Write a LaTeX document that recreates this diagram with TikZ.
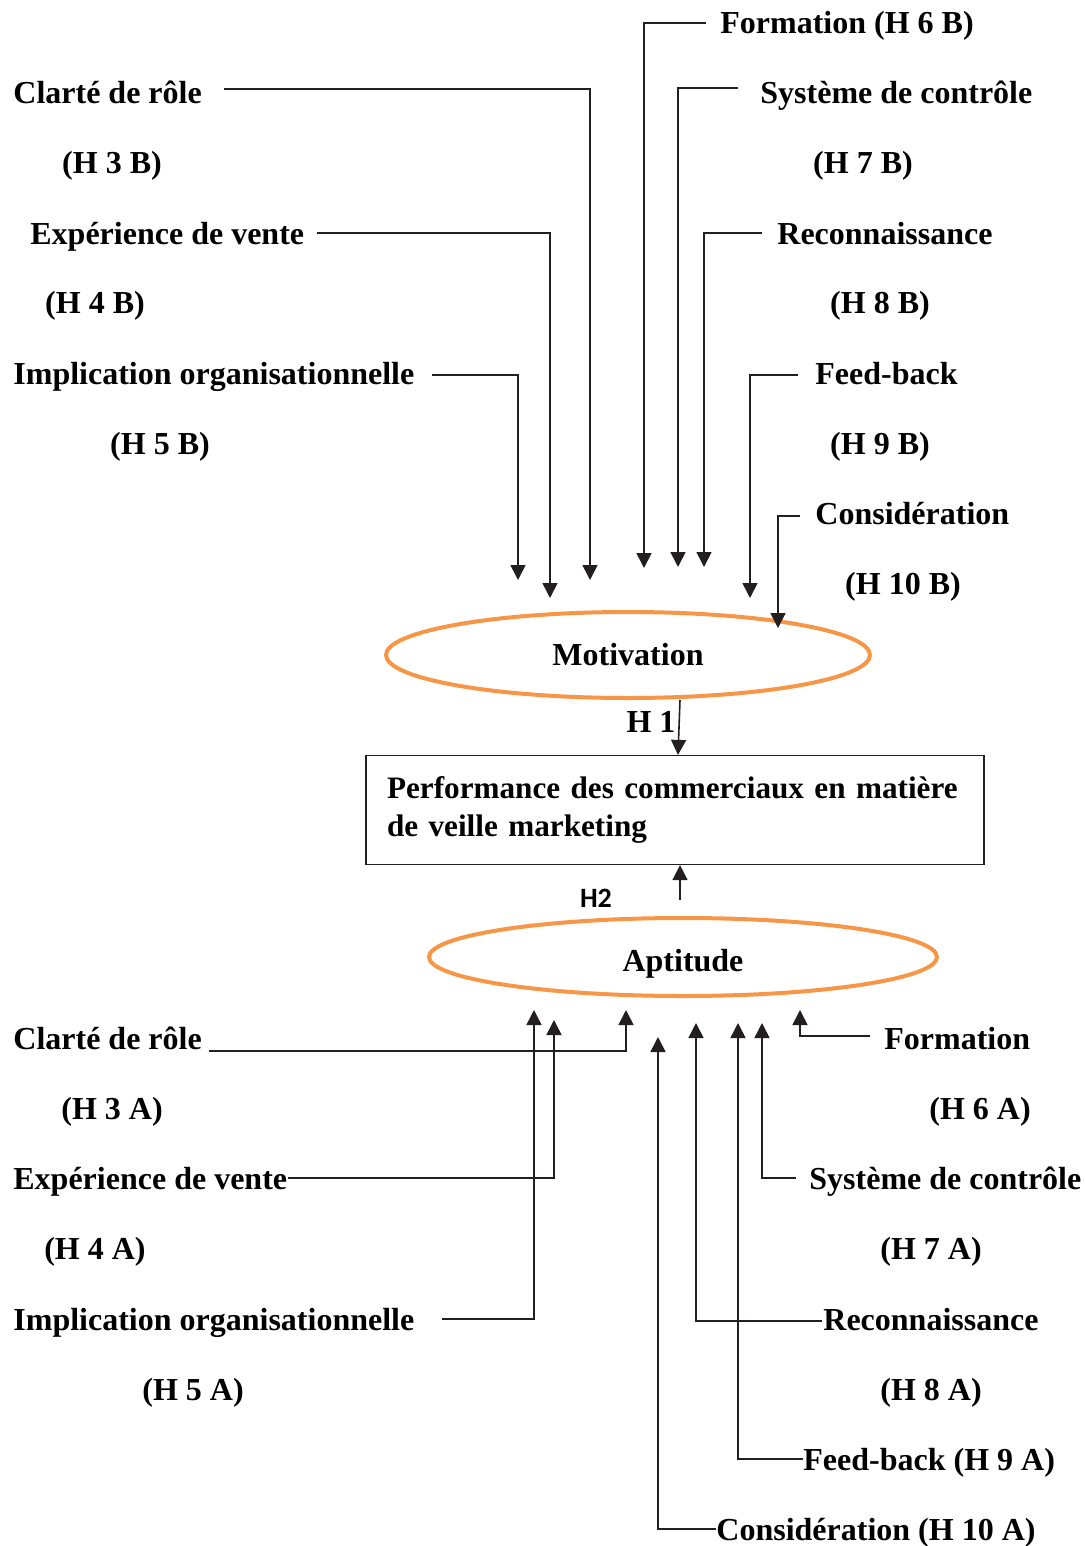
\documentclass[tikz,border=0pt]{standalone}
\usepackage{fontspec}
\setmainfont{Liberation Serif}
\newfontfamily\hfont{Carlito}
\usetikzlibrary{arrows.meta,positioning,calc,shapes.geometric}
\definecolor{ovalorange}{HTML}{F79646}
\definecolor{inkline}{HTML}{231F20}

\begin{document}
\begin{tikzpicture}[
    x=0.5pt, y=-0.5pt,
    lbl/.style={inner sep=0pt, anchor=west, text height=14pt, text depth=3pt, font=\fontsize{16}{19}\selectfont\bfseries},
    hyp/.style={inner sep=0pt, text height=14pt, text depth=3pt, font=\fontsize{16}{19}\selectfont\bfseries},
    oval/.style={ellipse, draw=ovalorange, line width=2pt, font=\fontsize{16}{19}\selectfont\bfseries},
    wire/.style={thick, inkline, -{Triangle[length=7.5pt,width=7.5pt]}}
  ]
  \useasboundingbox (0,0) rectangle (1084,1546);

  % central part
  \node[oval, minimum width=242pt, minimum height=43pt] (mot) at (628,655) {Motivation};
  \node[draw=inkline, line width=0.6pt, minimum width=309pt, minimum height=54.5pt,
        text width=288pt, inner xsep=10.5pt, align=left,
        font=\fontsize{15.6}{19}\selectfont\bfseries] (perf) at (675,810)
        {\mbox{Performance des commerciaux en matière}\\de veille marketing};
  \node[oval, minimum width=254pt, minimum height=39pt, text height=17pt, text depth=2.5pt] (apt) at (683,957) {Aptitude};

  \draw[wire] ([xshift=26pt]mot.south) -- ([xshift=1.5pt]perf.north);
  \node[hyp] (hone) at (651,721) {H 1};
  \coordinate (htwo) at (680,900);
  \draw[wire] (htwo) -- (perf.south -| htwo);
  \node[inner sep=0pt, font=\hfont\fontsize{14}{16}\selectfont\bfseries] (htwolbl) at (596,898) {H2};

  % motivation side, left labels
  \node[lbl] (clB) at (13,93) {Clarté de rôle};
  \node[hyp] (hB3) at (112,163) {(H 3 B)};
  \node[lbl] (exB) at (30,233) {Expérience de vente};
  \node[hyp] (hB4) at (95,303) {(H 4 B)};
  \node[lbl] (imB) at (13,373) {Implication organisationnelle};
  \node[hyp] (hB5) at (160,443) {(H 5 B)};

  % motivation side, right labels
  \node[lbl] (foB) at (720,23) {Formation (H 6 B)};
  \node[lbl] (syB) at (760,93) {Système de contrôle};
  \node[hyp] (hB7) at (863,163) {(H 7 B)};
  \node[lbl] (reB) at (777,233) {Reconnaissance};
  \node[hyp] (hB8) at (880,303) {(H 8 B)};
  \node[lbl] (feB) at (815,373) {Feed-back};
  \node[hyp] (hB9) at (880,443) {(H 9 B)};
  \node[lbl] (coB) at (815,513) {Considération};
  \node[hyp] (hB10) at (903,583) {(H 10 B)};

  \coordinate (tclB) at (590,580);
  \coordinate (texB) at (550,598);
  \coordinate (timB) at (518,580);
  \coordinate (tfoB) at (644,568);
  \coordinate (tsyB) at (678,567);
  \coordinate (treB) at (704,567);
  \coordinate (tfeB) at (750,598);
  \coordinate (tcoB) at (778,628);

  \draw[wire] ([xshift=11pt,yshift=2pt]clB.east) -| (tclB);
  \draw[wire] ([xshift=6pt]exB.east) -| (texB);
  \draw[wire] ([xshift=8.5pt,yshift=-1pt]imB.east) -| (timB);
  \draw[wire] ([xshift=-7pt]foB.west) -| (tfoB);
  \draw[wire] ([xshift=-11pt,yshift=2.5pt]syB.west) -| (tsyB);
  \draw[wire] ([xshift=-7.5pt]reB.west) -| (treB);
  \draw[wire] ([xshift=-8.5pt,yshift=-1pt]feB.west) -| (tfeB);
  \draw[wire] ([xshift=-7.5pt,yshift=-1.5pt]coB.west) -| (tcoB);

  % aptitude side, left labels
  \node[lbl] (clA) at (13,1038) {Clarté de rôle};
  \node[hyp] (hA3) at (112,1108) {(H 3 A)};
  \node[lbl] (exA) at (13,1178) {Expérience de vente};
  \node[hyp] (hA4) at (95,1248) {(H 4 A)};
  \node[lbl] (imA) at (13,1319) {Implication organisationnelle};
  \node[hyp] (hA5) at (193,1389) {(H 5 A)};

  % aptitude side, right labels
  \node[lbl] (foA) at (884,1038) {Formation};
  \node[hyp] (hA6) at (980,1108) {(H 6 A)};
  \node[lbl] (syA) at (809,1178) {Système de contrôle};
  \node[hyp] (hA7) at (931,1248) {(H 7 A)};
  \node[lbl] (reA) at (823,1319) {Reconnaissance};
  \node[hyp] (hA8) at (931,1389) {(H 8 A)};
  \node[lbl] (feA) at (803,1459) {Feed-back (H 9 A)};
  \node[lbl] (coA) at (716,1529) {Considération (H 10 A)};

  \coordinate (tclA) at (626,1010);
  \coordinate (texA) at (554,1020);
  \coordinate (timA) at (534,1010);
  \coordinate (tfoA) at (800,1010);
  \coordinate (tsyA) at (762,1023);
  \coordinate (treA) at (696,1023);
  \coordinate (tfeA) at (738,1023);
  \coordinate (tcoA) at (658,1037);

  \draw[wire] ([xshift=3.5pt,yshift=-6.5pt]clA.east) -| (tclA);
  \draw[wire] (exA.east) -| (texA);
  \draw[wire] ([xshift=13.5pt]imA.east) -| (timA);
  \draw[wire] ([xshift=-7pt,yshift=1pt]foA.west) -| (tfoA);
  \draw[wire] ([xshift=-6.5pt]syA.west) -| (tsyA);
  \draw[wire] ([xshift=-0.5pt,yshift=-1pt]reA.west) -| (treA);
  \draw[wire] (feA.west) -| (tfeA);
  \draw[wire] (coA.west) -| (tcoA);
\end{tikzpicture}
\end{document}
